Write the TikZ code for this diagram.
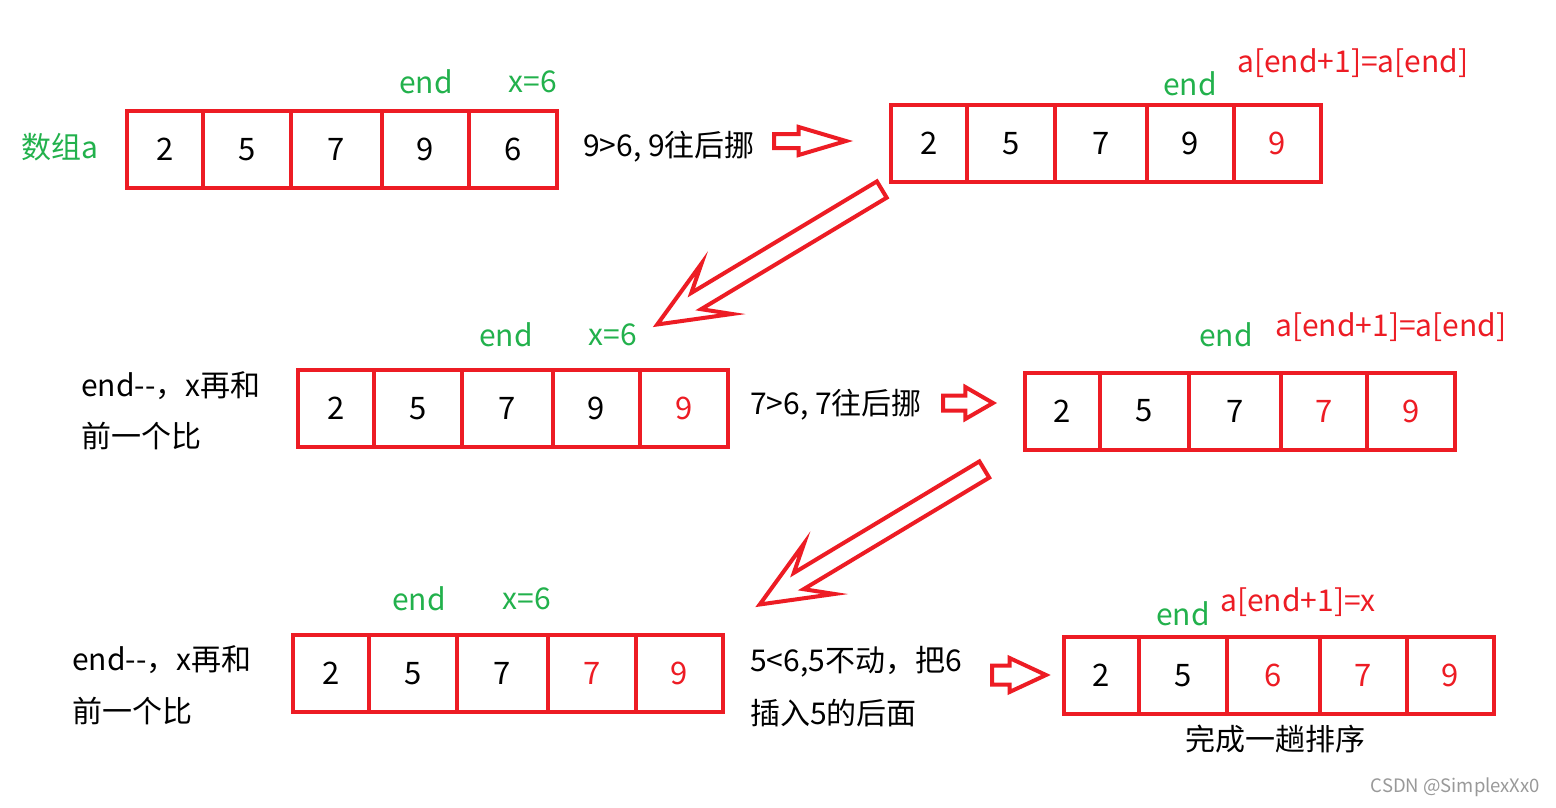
\documentclass[tikz,border=0pt]{standalone}
\usepackage{fontspec}
\setmainfont{Noto Sans CJK SC}
\usetikzlibrary{positioning,shapes.arrows}
\definecolor{pred}{HTML}{ED1C24}
\definecolor{pgreen}{HTML}{22B14C}
\newcommand{\bigtxt}{\fontsize{30pt}{36pt}\selectfont}
\newcommand{\celltxt}{\fontsize{31pt}{36pt}\selectfont}

\begin{document}
\begin{tikzpicture}[x=1pt,y=-1pt,
    cell/.style={rectangle,draw=pred,line width=4pt,minimum height=77pt,inner sep=0pt,outer sep=0pt,font=\celltxt},
    hi/.style={text=pred},
    lbl/.style={font=\bigtxt,inner sep=0pt},
    var/.style={lbl,text=pgreen},
    note/.style={lbl,text=pred,anchor=west},
    say/.style={lbl,anchor=west},
    flat/.style={single arrow,draw=pred,line width=4pt,inner xsep=0pt,anchor=tail,single arrow head indent=0pt},
    slant/.style={flat,rotate=211,minimum height=262pt,inner ysep=7.5pt,single arrow head extend=20pt,single arrow tip angle=46,single arrow head indent=24pt}]
    \fill[white](0,0)rectangle(1556,807);
    % first compare: 9>6
    \node[var] (nameA) at (60,147) {数组a};
    \node[cell,minimum width=76pt] (a1) at (165,149.5) {2};
    \node[cell,minimum width=88pt,right=0pt of a1] (a2) {5};
    \node[cell,minimum width=91pt,right=0pt of a2] (a3) {7};
    \node[cell,minimum width=87pt,right=0pt of a3] (a4) {9};
    \node[cell,minimum width=88pt,right=0pt of a4] (a5) {6};
    \node[var] (endA) at (426,82) {end};
    \node[var] (xA) at (533,82) {x=6};
    \node[say] (stepA) at (583,147) {9>6, 9往后挪};
    \node[flat,minimum height=72pt,inner ysep=5pt,single arrow head extend=7pt,single arrow tip angle=33] (mvA) at (772,141) {};
    \node[cell,minimum width=76pt] (b1) at (929,143.5) {2};
    \node[cell,minimum width=88pt,right=0pt of b1] (b2) {5};
    \node[cell,minimum width=92pt,right=0pt of b2] (b3) {7};
    \node[cell,minimum width=87pt,right=0pt of b3] (b4) {9};
    \node[cell,hi,minimum width=87pt,right=0pt of b4] (b5) {9};
    \node[var] (endB) at (1190,84) {end};
    \node[note] (setB) at (1237,63) {a[end+1]=a[end]};
    \node[slant] (downA) at (883.5,188.5) {};
    % second compare: 7>6
    \node[say] (tellC1) at (81,386) {end{-}{-}，x再和};
    \node[say] (tellC2) at (81,436) {前一个比};
    \node[cell,minimum width=76pt] (c1) at (336,408.5) {2};
    \node[cell,minimum width=88pt,right=0pt of c1] (c2) {5};
    \node[cell,minimum width=91pt,right=0pt of c2] (c3) {7};
    \node[cell,minimum width=87pt,right=0pt of c3] (c4) {9};
    \node[cell,hi,minimum width=88pt,right=0pt of c4] (c5) {9};
    \node[var] (endC) at (506,335) {end};
    \node[var] (xC) at (613,335) {x=6};
    \node[say] (stepC) at (750,405) {7>6, 7往后挪};
    \node[flat,minimum height=50pt,inner ysep=5.5pt,single arrow head extend=8.5pt,single arrow tip angle=60] (mvC) at (941,403) {};
    \node[cell,minimum width=75pt] (d1) at (1062.5,411) {2};
    \node[cell,minimum width=89pt,right=0pt of d1] (d2) {5};
    \node[cell,minimum width=92pt,right=0pt of d2] (d3) {7};
    \node[cell,hi,minimum width=86pt,right=0pt of d3] (d4) {7};
    \node[cell,hi,minimum width=88pt,right=0pt of d4] (d5) {9};
    \node[var] (endD) at (1226,335) {end};
    \node[note] (setD) at (1275,327) {a[end+1]=a[end]};
    \node[slant] (downC) at (986,468.5) {};
    % third compare: 5<6, insert x
    \node[say] (tellE1) at (72,660) {end{-}{-}，x再和};
    \node[say] (tellE2) at (72,711) {前一个比};
    \node[cell,minimum width=76pt] (e1) at (331,673.5) {2};
    \node[cell,minimum width=88pt,right=0pt of e1] (e2) {5};
    \node[cell,minimum width=91pt,right=0pt of e2] (e3) {7};
    \node[cell,hi,minimum width=88pt,right=0pt of e3] (e4) {7};
    \node[cell,hi,minimum width=87pt,right=0pt of e4] (e5) {9};
    \node[var] (endE) at (419,599) {end};
    \node[var] (xE) at (527,599) {x=6};
    \node[say] (stepE1) at (750,662) {5<6,5不动，把6};
    \node[say] (stepE2) at (750,713) {插入5的后面};
    \node[flat,minimum height=54pt,inner ysep=7.5pt,single arrow head extend=7.5pt,single arrow tip angle=50] (mvE) at (990,675) {};
    \node[cell,minimum width=75pt] (f1) at (1101.5,675.5) {2};
    \node[cell,minimum width=88pt,right=0pt of f1] (f2) {5};
    \node[cell,hi,minimum width=93pt,right=0pt of f2] (f3) {6};
    \node[cell,hi,minimum width=87pt,right=0pt of f3] (f4) {7};
    \node[cell,hi,minimum width=87pt,right=0pt of f4] (f5) {9};
    \node[var] (endF) at (1183,614) {end};
    \node[note] (setF) at (1220,602) {a[end+1]=x};
    \node[lbl] (done) at (1275,739) {完成一趟排序};
    \node[font=\fontsize{18.5pt}{22pt}\selectfont,text=black!40,anchor=east,inner sep=0pt] (mark) at (1540,787) {CSDN @SimplexXx0};
\end{tikzpicture}
\end{document}
